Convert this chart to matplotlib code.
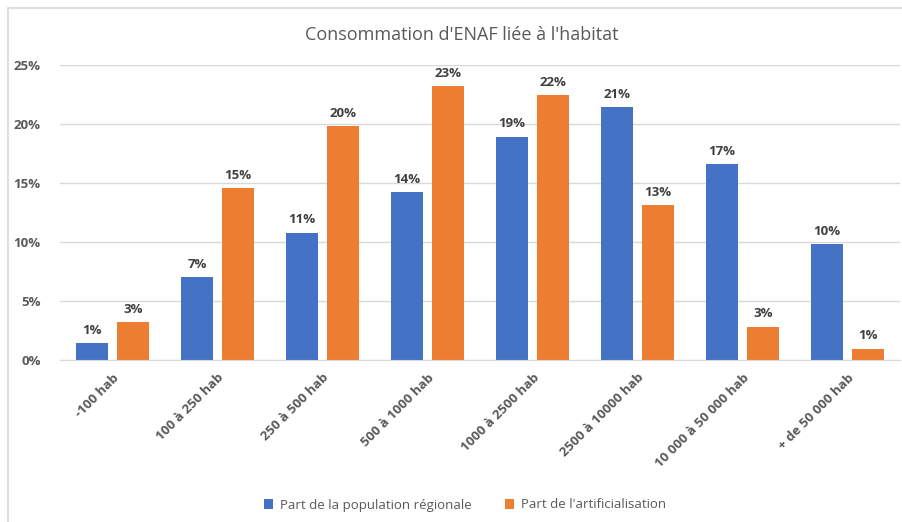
import matplotlib
matplotlib.use("Agg")
import matplotlib.pyplot as plt
import numpy as np
from matplotlib.patches import Rectangle

categories = ["-100 hab", "100 à 250 hab", "250 à 500 hab", "500 à 1000 hab",
              "1000 à 2500 hab", "2500 à 10000 hab", "10 000 à 50 000 hab", "+ de 50 000 hab"]
population = [1.4, 7.0, 10.8, 14.2, 18.9, 21.4, 16.6, 9.8]
artificialisation = [3.2, 14.55, 19.8, 23.2, 22.45, 13.1, 2.8, 0.95]
series_names = ["Part de la population régionale", "Part de l'artificialisation"]
yticks = [0, 5, 10, 15, 20, 25]

plt.rcParams['font.family'] = ['Open Sans', 'DejaVu Sans']

W, H = 903, 522
fig = plt.figure(figsize=(W/100, H/100), dpi=100)
fig.patch.set_facecolor("white")

# chart frame
fig.patches.append(Rectangle((8/W, -0.1), 1.2, 1 - 8/H + 0.1, transform=fig.transFigure,
                             fill=False, edgecolor="#D9D9D9", linewidth=1.2))

ax = fig.add_axes([60/W, 1 - 360/H, (900-60)/W, (360-65)/H])
x = np.arange(len(categories))
bw = 0.305
off = 0.195
blue = "#4472C4"
orange = "#ED7D31"
b1 = ax.bar(x - off, population, bw, color=blue, label=series_names[0], zorder=3)
b2 = ax.bar(x + off, artificialisation, bw, color=orange, label=series_names[1], zorder=3)

for bars, vals in ((b1, population), (b2, artificialisation)):
    for r, v in zip(bars, vals):
        ax.text(r.get_x() + r.get_width()/2, v + 0.55, f"{int(np.floor(v + 0.5))}%", ha="center", va="bottom",
                fontsize=9.5, fontweight="bold", color="#404040")

ax.set_xlim(-0.5, len(categories) - 0.5)
ax.set_ylim(0, 25)
ax.set_yticks(yticks)
ax.set_yticklabels([f"{t}%" for t in yticks], fontsize=9.5, fontweight="bold", color="#595959")
ax.set_xticks(x)
ax.set_xticklabels(categories, rotation=45, ha="right", rotation_mode="anchor",
                   fontsize=9.5, fontweight="bold", color="#595959")
ax.tick_params(axis="both", length=0)
ax.tick_params(axis="y", pad=14)
ax.tick_params(axis="x", pad=8)
ax.grid(axis="y", color="#D9D9D9", linewidth=1, zorder=0)
for s in ("top", "right", "left"):
    ax.spines[s].set_visible(False)
ax.spines["bottom"].set_color("#D9D9D9")
ax.spines["bottom"].set_zorder(4)

fig.text(462/W, 1 - 35/H, "Consommation d'ENAF liée à l'habitat", ha="center", va="center",
         fontsize=13, color="#595959")

fig.legend(handles=[b1, b2], labels=series_names, loc="center", bbox_to_anchor=(465/W, 1 - 505/H),
           ncol=2, frameon=False, fontsize=9.5, labelcolor="#595959", handlelength=0.7,
           handleheight=0.7, handletextpad=0.5, columnspacing=2.5)

fig.savefig("out.png", dpi=100, facecolor="white")
